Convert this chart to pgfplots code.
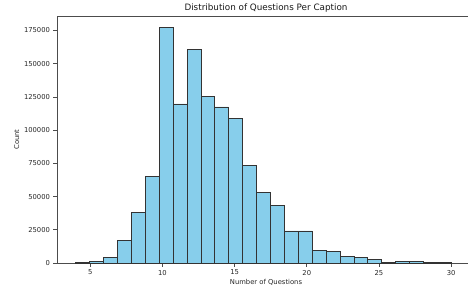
\documentclass[border=0pt]{standalone}
\usepackage{fontspec}
\setmainfont{DejaVu Sans}
\usepackage{pgfplots}
\pgfplotsset{compat=1.18}
\definecolor{skyblue}{RGB}{135,206,235}
\begin{document}
\begin{tikzpicture}[x=1pt,y=1pt]
\begin{axis}[
  at={(57pt,26pt)}, anchor=south west,
  scale only axis, width=418pt, height=247pt,
  xmin=2.7, xmax=31.65, ymin=0, ymax=185850,
  axis x line*=bottom, axis y line*=left,
  clip=false,
  xtick={5,10,15,20,25,30},
  ytick={0,25000,50000,75000,100000,125000,150000,175000},
  scaled y ticks=false,
  /pgf/number format/.cd, fixed, 1000 sep={}, assume math mode=true, /pgfplots/.cd,
  tick align=outside,
  major tick length=3.5pt,
  tick style={black!70, line width=0.6pt},
  axis line style={black!70, line width=0.6pt},
  ticklabel style={font=\fontsize{6.8}{8}\selectfont, text=black!85},
  xlabel={Number of Questions},
  ylabel={Count},
  label style={font=\fontsize{6.8}{8}\selectfont, text=black!85},
  xlabel style={yshift=3pt},
  ylabel style={yshift=-2pt},
  title={Distribution of Questions Per Caption},
  title style={font=\fontsize{8.8}{10}\selectfont, text=black!90, anchor=base, yshift=-1pt},
]
\addplot[ybar interval, fill=skyblue, draw=black!80, line width=0.65pt] coordinates {
(4.000,300) (4.963,1300) (5.926,4500) (6.889,16800) (7.852,38200) (8.815,65000)
(9.778,177000) (10.741,119700) (11.704,160400) (12.667,125500) (13.630,117500)
(14.593,109000) (15.556,73300) (16.519,53200) (17.481,43200) (18.444,24100)
(19.407,24100) (20.370,9300) (21.333,8600) (22.296,5000) (23.259,4500)
(24.222,2800) (25.185,500) (26.148,1200) (27.111,1100) (28.074,600)
(29.037,400) (30.000,400)
};
\draw[black!70, line width=0.6pt] (rel axis cs:0,1) -- (rel axis cs:1,1);
\end{axis}
\pgfresetboundingbox
\path[use as bounding box] (0,0) rectangle (468,289);
\end{tikzpicture}
\end{document}
